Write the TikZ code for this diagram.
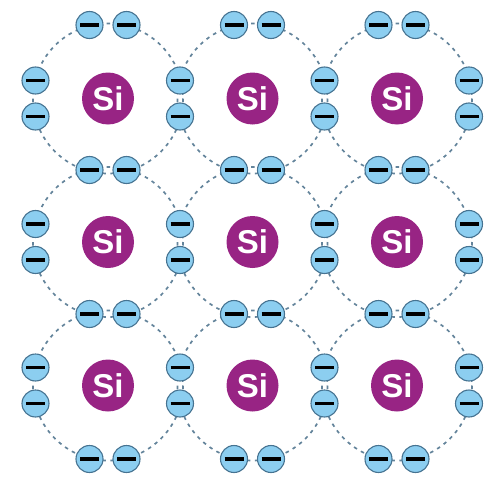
\documentclass[tikz,border=0pt]{standalone}
\usepackage{fontspec}
\setmainfont{Liberation Sans}
\definecolor{siPurple}{RGB}{152,36,132}
\definecolor{eFill}{RGB}{140,206,240}
\definecolor{eEdge}{RGB}{70,115,145}
\definecolor{orbitCol}{RGB}{100,132,155}
\begin{document}
\begin{tikzpicture}[x=1pt,y=-1pt,
  atom/.style={circle,fill=siPurple,inner sep=0pt,minimum size=52pt,
    text=white,font=\fontsize{33}{33}\selectfont\bfseries},
  electron/.style={circle,draw=eEdge,fill=eFill,line width=1.1pt,
    minimum size=27pt,inner sep=0pt},
  orbit/.style={draw=orbitCol,line width=1.7pt,dash pattern=on 3.5pt off 4.5pt}]
  \useasboundingbox (0,0) rectangle (485,479);
  % silicon atoms on a 3x3 lattice
  \foreach \i/\y in {1/98.5,2/242,3/385.5}
    \foreach \j/\x in {1/108,2/252.5,3/397}
      \node[atom] (si-\i-\j) at (\x,\y) {Si};
  % valence shells
  \foreach \i in {1,2,3}
    \foreach \j in {1,2,3}
      \draw[orbit] (si-\i-\j.center) circle (75);
  % electron pairs above and below each atom
  \foreach \r/\y in {0/25,1/170,2/314,3/459}
    \foreach \j/\x in {1/108,2/252.5,3/397} {
      \node[electron] (eh-\r-\j-a) at (\x-18.5,\y) {\rule[-1.7pt]{19pt}{3.4pt}};
      \node[electron] (eh-\r-\j-b) at (\x+18.5,\y) {\rule[-1.7pt]{19pt}{3.4pt}};
    }
  % electron pairs left and right of each atom
  \foreach \c/\x in {0/35.5,1/180,2/324.5,3/469}
    \foreach \i/\y in {1/98.5,2/242,3/385.5} {
      \node[electron] (ev-\c-\i-a) at (\x,\y-18) {\rule[-1.7pt]{19pt}{3.4pt}};
      \node[electron] (ev-\c-\i-b) at (\x,\y+18) {\rule[-1.7pt]{19pt}{3.4pt}};
    }
\end{tikzpicture}
\end{document}
